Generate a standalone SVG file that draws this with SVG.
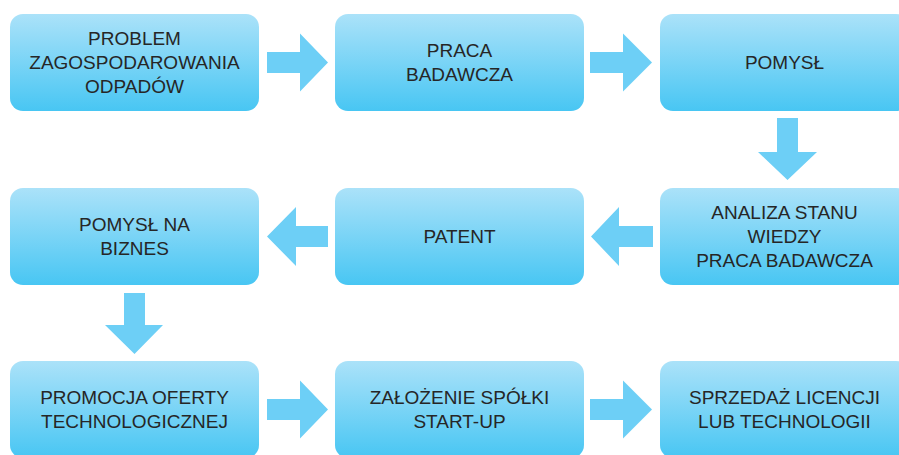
<svg xmlns="http://www.w3.org/2000/svg" width="899" height="455" viewBox="0 0 899 455">
<defs>
<linearGradient id="g" x1="0" y1="0" x2="0" y2="1">
<stop offset="0" stop-color="#abe2f9"/>
<stop offset="1" stop-color="#48c6f3"/>
</linearGradient>
<style>
.box{fill:url(#g);}
.t{font-family:"Liberation Sans",Arial,sans-serif;font-size:19px;fill:#262626;text-anchor:middle;}
.arr{fill:#6dcff6;}
</style>
</defs>
<rect width="899" height="455" fill="#ffffff"/>
<g id="connectors">
<polygon class="arr" points="267,52 300,52 300,33.5 328,62.5 300,91.5 300,73 267,73"/>
<polygon class="arr" points="590,52 623,52 623,33.5 652,62.5 623,91.5 623,73 590,73"/>
<polygon class="arr" points="777,118 798,118 798,152 817,152 787.5,180 758,152 777,152"/>
<polygon class="arr" points="653,226 619,226 619,207 591,236.5 619,266 619,247 653,247"/>
<polygon class="arr" points="328,226 296,226 296,207 267,236.5 296,266 296,247 328,247"/>
<polygon class="arr" points="124,293 145,293 145,325 163,325 134.5,354 105,325 124,325"/>
<polygon class="arr" points="267,399 300,399 300,380.5 328,409.5 300,438.5 300,420 267,420"/>
<polygon class="arr" points="590,399 623,399 623,380.5 652,409.5 623,438.5 623,420 590,420"/>
</g>
<g id="n1"><rect class="box" x="10" y="14" width="249" height="97" rx="13"/>
<text class="t" x="134.5" y="45">PROBLEM</text><text class="t" x="134.5" y="69">ZAGOSPODAROWANIA</text><text class="t" x="134.5" y="93">ODPADÓW</text></g>
<g id="n2"><rect class="box" x="335" y="14" width="249" height="97" rx="13"/>
<text class="t" x="459.5" y="57">PRACA</text><text class="t" x="459.5" y="81">BADAWCZA</text></g>
<g id="n3"><rect class="box" x="660" y="14" width="249" height="97" rx="13"/>
<text class="t" x="784.5" y="69">POMYSŁ</text></g>
<g id="n4"><rect class="box" x="660" y="188" width="249" height="97" rx="13"/>
<text class="t" x="784.5" y="219">ANALIZA STANU</text><text class="t" x="784.5" y="243">WIEDZY</text><text class="t" x="784.5" y="267">PRACA BADAWCZA</text></g>
<g id="n5"><rect class="box" x="335" y="188" width="249" height="97" rx="13"/>
<text class="t" x="459.5" y="243">PATENT</text></g>
<g id="n6"><rect class="box" x="10" y="188" width="249" height="97" rx="13"/>
<text class="t" x="134.5" y="231">POMYSŁ NA</text><text class="t" x="134.5" y="255">BIZNES</text></g>
<g id="n7"><rect class="box" x="10" y="361" width="249" height="97" rx="13"/>
<text class="t" x="134.5" y="404">PROMOCJA OFERTY</text><text class="t" x="134.5" y="428">TECHNOLOGICZNEJ</text></g>
<g id="n8"><rect class="box" x="335" y="361" width="249" height="97" rx="13"/>
<text class="t" x="459.5" y="404">ZAŁOŻENIE SPÓŁKI</text><text class="t" x="459.5" y="428">START-UP</text></g>
<g id="n9"><rect class="box" x="660" y="361" width="249" height="97" rx="13"/>
<text class="t" x="784.5" y="404">SPRZEDAŻ LICENCJI</text><text class="t" x="784.5" y="428">LUB TECHNOLOGII</text></g>
</svg>
